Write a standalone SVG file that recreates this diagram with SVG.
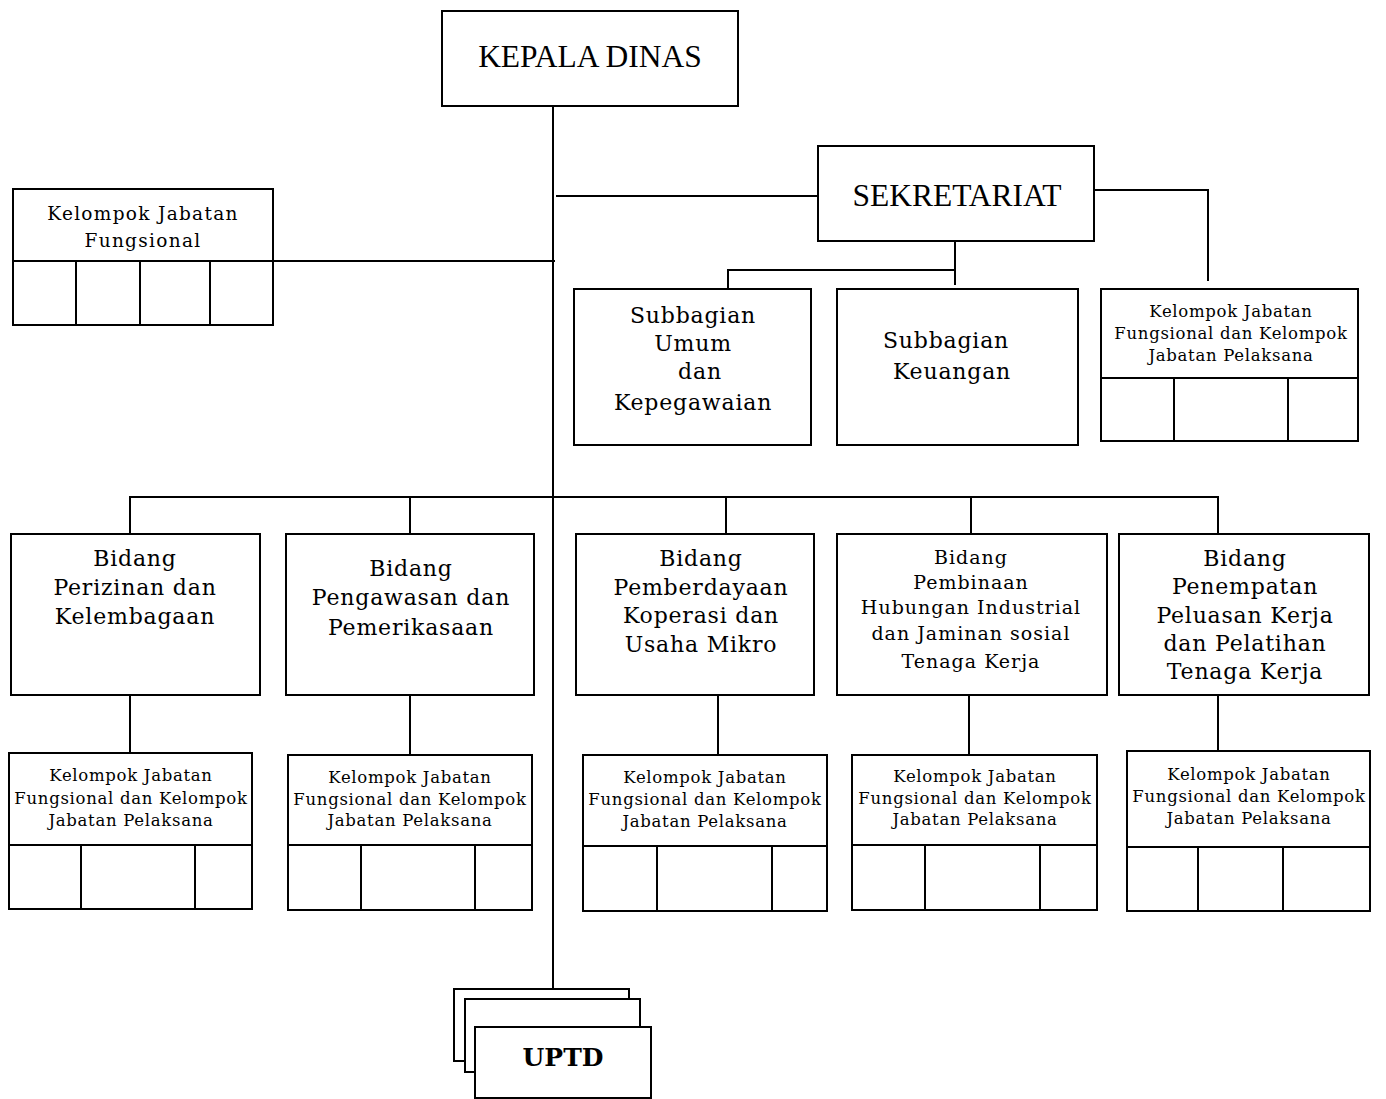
<svg xmlns="http://www.w3.org/2000/svg" width="1386" height="1099" viewBox="0 0 1386 1099">
<style>
.b{fill:#fff;stroke:#000;stroke-width:2}
.l{fill:none;stroke:#000;stroke-width:2}
.t{font-family:"DejaVu Serif","Liberation Serif",serif;fill:#000;text-anchor:middle}
.s{font-size:16.5px;letter-spacing:0.7px}
.m{font-size:22px;letter-spacing:0.8px}
.f{font-size:19px;letter-spacing:1px}
.k{font-size:18.5px;letter-spacing:1.3px}
.h{font-family:"Liberation Serif","Times New Roman",serif;font-size:31.5px;fill:#000;text-anchor:middle}
</style>
<rect width="1386" height="1099" fill="#fff"/>
<g id="connectors">
<path class="l" d="M553 106V989"/>
<path class="l" d="M556 196H818"/>
<path class="l" d="M1094 190H1208V281"/>
<path class="l" d="M955 241V285M955 270H728V289"/>
<path class="l" d="M273 261H555"/>
<path class="l" d="M130 534V497H1218V534M410 497V534M726 497V534M971 497V534"/>
<path class="l" d="M130 695V753M410 695V755M718 695V755M969 695V755M1218 695V751"/>
</g>
<g id="kepala">
<rect class="b" x="442" y="11" width="296" height="95"/>
<text class="h" x="590" y="67">KEPALA DINAS</text>
</g>
<g id="sekretariat">
<rect class="b" x="818" y="146" width="276" height="95"/>
<text class="h" x="957" y="206">SEKRETARIAT</text>
</g>
<g id="kjf-left">
<rect class="b" x="13" y="189" width="260" height="136"/>
<path class="l" d="M13 261H273M76 261V325M140 261V325M210 261V325"/>
<text class="t k" x="143" y="220">Kelompok Jabatan</text>
<text class="t k" x="143" y="247">Fungsional</text>
</g>
<g id="subbag-umum">
<rect class="b" x="574" y="289" width="237" height="156"/>
<text class="t m" x="693" y="323">Subbagian</text>
<text class="t m" x="693" y="351">Umum</text>
<text class="t m" x="700" y="379">dan</text>
<text class="t m" x="693" y="410">Kepegawaian</text>
</g>
<g id="subbag-keu">
<rect class="b" x="837" y="289" width="241" height="156"/>
<text class="t m" x="946" y="348">Subbagian</text>
<text class="t m" x="952" y="379">Keuangan</text>
</g>
<g id="kjf-sek">
<rect class="b" x="1101" y="289" width="257" height="152"/>
<path class="l" d="M1101 378H1358M1174 378V441M1288 378V441"/>
<text class="t s" x="1231" y="317">Kelompok Jabatan</text>
<text class="t s" x="1231" y="339">Fungsional dan Kelompok</text>
<text class="t s" x="1231" y="361">Jabatan Pelaksana</text>
</g>
<g id="bidang1">
<rect class="b" x="11" y="534" width="249" height="161"/>
<text class="t m" x="135" y="566">Bidang</text>
<text class="t m" x="135" y="595">Perizinan dan</text>
<text class="t m" x="135" y="624">Kelembagaan</text>
</g>
<g id="bidang2">
<rect class="b" x="286" y="534" width="248" height="161"/>
<text class="t m" x="411" y="576">Bidang</text>
<text class="t m" x="411" y="605">Pengawasan dan</text>
<text class="t m" x="411" y="635">Pemerikasaan</text>
</g>
<g id="bidang3">
<rect class="b" x="576" y="534" width="238" height="161"/>
<text class="t m" x="701" y="566">Bidang</text>
<text class="t m" x="701" y="595">Pemberdayaan</text>
<text class="t m" x="701" y="623">Koperasi dan</text>
<text class="t m" x="701" y="652">Usaha Mikro</text>
</g>
<g id="bidang4">
<rect class="b" x="837" y="534" width="270" height="161"/>
<text class="t f" x="971" y="564">Bidang</text>
<text class="t f" x="971" y="589">Pembinaan</text>
<text class="t f" x="971" y="614">Hubungan Industrial</text>
<text class="t f" x="971" y="640">dan Jaminan sosial</text>
<text class="t f" x="971" y="668">Tenaga Kerja</text>
</g>
<g id="bidang5">
<rect class="b" x="1119" y="534" width="250" height="161"/>
<text class="t m" x="1245" y="566">Bidang</text>
<text class="t m" x="1245" y="594">Penempatan</text>
<text class="t m" x="1245" y="623">Peluasan Kerja</text>
<text class="t m" x="1245" y="651">dan Pelatihan</text>
<text class="t m" x="1245" y="679">Tenaga Kerja</text>
</g>
<g id="kjf1">
<rect class="b" x="9" y="753" width="243" height="156"/>
<path class="l" d="M9 845H252M81 845V909M195 845V909"/>
<text class="t s" x="131" y="781">Kelompok Jabatan</text>
<text class="t s" x="131" y="804">Fungsional dan Kelompok</text>
<text class="t s" x="131" y="826">Jabatan Pelaksana</text>
</g>
<g id="kjf2">
<rect class="b" x="288" y="755" width="244" height="155"/>
<path class="l" d="M288 845H532M361 845V910M475 845V910"/>
<text class="t s" x="410" y="783">Kelompok Jabatan</text>
<text class="t s" x="410" y="805">Fungsional dan Kelompok</text>
<text class="t s" x="410" y="826">Jabatan Pelaksana</text>
</g>
<g id="kjf3">
<rect class="b" x="583" y="755" width="244" height="156"/>
<path class="l" d="M583 846H827M657 846V911M772 846V911"/>
<text class="t s" x="705" y="783">Kelompok Jabatan</text>
<text class="t s" x="705" y="805">Fungsional dan Kelompok</text>
<text class="t s" x="705" y="827">Jabatan Pelaksana</text>
</g>
<g id="kjf4">
<rect class="b" x="852" y="755" width="245" height="155"/>
<path class="l" d="M852 845H1097M925 845V910M1040 845V910"/>
<text class="t s" x="975" y="782">Kelompok Jabatan</text>
<text class="t s" x="975" y="804">Fungsional dan Kelompok</text>
<text class="t s" x="975" y="825">Jabatan Pelaksana</text>
</g>
<g id="kjf5">
<rect class="b" x="1127" y="751" width="243" height="160"/>
<path class="l" d="M1127 847H1370M1198 847V911M1283 847V911"/>
<text class="t s" x="1249" y="780">Kelompok Jabatan</text>
<text class="t s" x="1249" y="802">Fungsional dan Kelompok</text>
<text class="t s" x="1249" y="824">Jabatan Pelaksana</text>
</g>
<g id="uptd">
<rect class="b" x="454" y="989" width="175" height="72"/>
<rect class="b" x="465" y="999" width="175" height="73"/>
<rect class="b" x="475" y="1027" width="176" height="71"/>
<text x="563" y="1066" font-family="DejaVu Serif, serif" font-weight="bold" font-size="25" text-anchor="middle">UPTD</text>
</g>
</svg>
